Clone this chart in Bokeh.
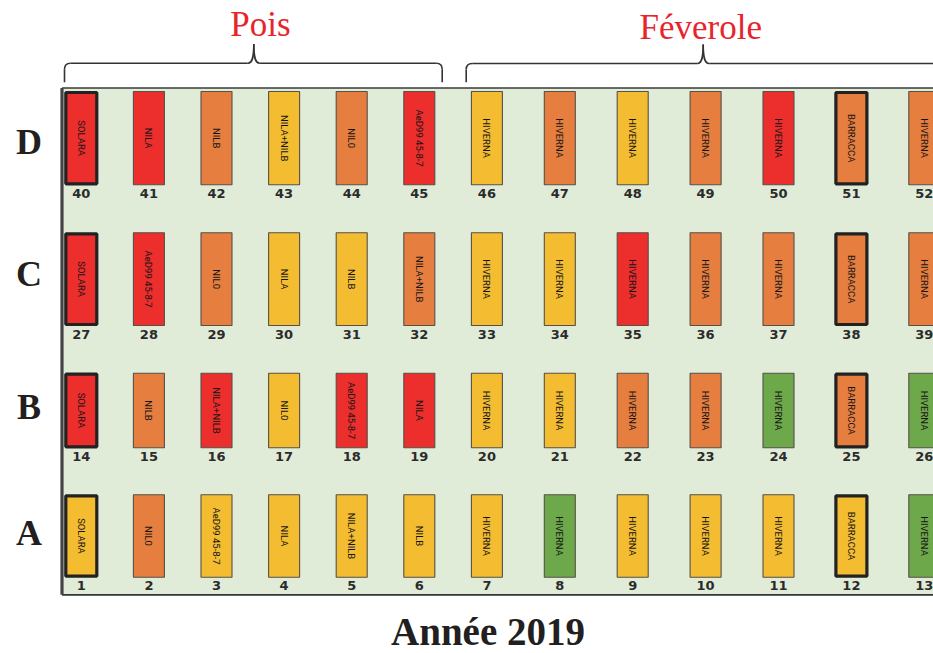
import math
from bokeh.plotting import figure
from bokeh.models import Range1d, ColumnDataSource
from bokeh.core.properties import value
from bokeh.embed import file_html
from bokeh.resources import INLINE

# ------------------------------------------------------------------ data
rows = ["D", "C", "B", "A"]

numbers_D = [40, 41, 42, 43, 44, 45, 46, 47, 48, 49, 50, 51, 52]
numbers_C = [27, 28, 29, 30, 31, 32, 33, 34, 35, 36, 37, 38, 39]
numbers_B = [14, 15, 16, 17, 18, 19, 20, 21, 22, 23, 24, 25, 26]
numbers_A = [1, 2, 3, 4, 5, 6, 7, 8, 9, 10, 11, 12, 13]

varieties_D = ["SOLARA", "NILA", "NILB", "NILA+NILB", "NIL0", "AeD99 45-8-7",
               "HIVERNA", "HIVERNA", "HIVERNA", "HIVERNA", "HIVERNA", "BARRACCA", "HIVERNA"]
varieties_C = ["SOLARA", "AeD99 45-8-7", "NIL0", "NILA", "NILB", "NILA+NILB",
               "HIVERNA", "HIVERNA", "HIVERNA", "HIVERNA", "HIVERNA", "BARRACCA", "HIVERNA"]
varieties_B = ["SOLARA", "NILB", "NILA+NILB", "NIL0", "AeD99 45-8-7", "NILA",
               "HIVERNA", "HIVERNA", "HIVERNA", "HIVERNA", "HIVERNA", "BARRACCA", "HIVERNA"]
varieties_A = ["SOLARA", "NIL0", "AeD99 45-8-7", "NILA", "NILA+NILB", "NILB",
               "HIVERNA", "HIVERNA", "HIVERNA", "HIVERNA", "HIVERNA", "BARRACCA", "HIVERNA"]

classes_D = ["rouge", "rouge", "orange", "jaune", "orange", "rouge",
             "jaune", "orange", "jaune", "orange", "rouge", "orange", "orange"]
classes_C = ["rouge", "rouge", "orange", "jaune", "jaune", "orange",
             "jaune", "jaune", "rouge", "orange", "orange", "orange", "orange"]
classes_B = ["rouge", "orange", "rouge", "jaune", "rouge", "rouge",
             "jaune", "jaune", "orange", "orange", "vert", "orange", "vert"]
classes_A = ["jaune", "orange", "jaune", "jaune", "jaune", "jaune",
             "jaune", "vert", "jaune", "jaune", "jaune", "jaune", "vert"]

groups = ["Pois", "Féverole"]
group_sizes = [6, 7]
controls = ["SOLARA", "BARRACCA"]
title_text = "Année 2019"

palette = {"rouge": "#ec2e2c", "orange": "#e57e3f", "jaune": "#f4bd31", "vert": "#6da84b"}

# ------------------------------------------------------------------ layout
W, H = 933, 653

# column centres (page px), per group: first centre and step
group_layout = {"Pois": (80.8, 67.6), "Féverole": (486.4, 72.9)}
col_centres = []
for g, n in zip(groups, group_sizes):
    x0, step = group_layout[g]
    col_centres += [x0 + step * i for i in range(n)]

# per row: rect top, rect bottom, row-label y, number y (page px)
row_geom = {"D": (91.0, 184.3, 141.7, 193.3),
            "C": (232.3, 325.0, 273.0, 334.3),
            "B": (372.7, 447.3, 406.0, 455.7),
            "A": (494.3, 576.7, 532.5, 585.0)}

row_numbers = {"D": numbers_D, "C": numbers_C, "B": numbers_B, "A": numbers_A}
row_varieties = {"D": varieties_D, "C": varieties_C, "B": varieties_B, "A": varieties_A}
row_classes = {"D": classes_D, "C": classes_C, "B": classes_B, "A": classes_A}

HALF_W = 15.5

cell = dict(left=[], right=[], top=[], bottom=[], color=[], lw=[], lc=[],
            cx=[], cy=[], label=[], ny=[], num=[])
for r in rows:
    top, bot, ly, ny = row_geom[r]
    for cx, num, var, cl in zip(col_centres, row_numbers[r], row_varieties[r], row_classes[r]):
        thick = var in controls
        cell["left"].append(cx - HALF_W)
        cell["right"].append(cx + HALF_W)
        cell["top"].append(top + (1 if thick else 0))
        cell["bottom"].append(bot - (1 if thick else 0))
        cell["color"].append(palette[cl])
        cell["lw"].append(3.2 if thick else 1.1)
        cell["lc"].append("#222222" if thick else "#555048")
        cell["cx"].append(cx)
        cell["cy"].append((top + bot) / 2)
        cell["label"].append(var)
        cell["ny"].append(ny)
        cell["num"].append(str(num))
src = ColumnDataSource(cell)

p = figure(width=W, height=H, x_range=Range1d(0, W), y_range=Range1d(H, 0),
           output_backend="svg", toolbar_location=None, min_border=0,
           x_axis_location=None, y_axis_location=None)
p.grid.visible = False
p.outline_line_color = None
p.background_fill_color = "white"
p.border_fill_color = "white"

# field background
BG_L, BG_T, BG_B = 61.5, 87.5, 594.3
p.quad(left=[BG_L], right=[1000], top=[BG_T], bottom=[BG_B],
       fill_color="#e1ecd8", line_color=None)
p.segment(x0=[BG_L], y0=[BG_T], x1=[1000], y1=[BG_T], line_color="#3a3a3a", line_width=1.6)
p.segment(x0=[BG_L], y0=[BG_B], x1=[1000], y1=[BG_B], line_color="#333333", line_width=1.8)
p.segment(x0=[BG_L], y0=[BG_T], x1=[BG_L], y1=[BG_B], line_color="#444444", line_width=3.2)

# plots
p.quad(left="left", right="right", top="top", bottom="bottom", source=src,
       fill_color="color", line_color="lc", line_width="lw")
p.text(x="cx", y="cy", text="label", source=src, angle=-math.pi / 2,
       text_align="center", text_baseline="middle",
       text_font=value("Roboto"), text_font_size="9.5px",
       text_color="#151515")
p.text(x="cx", y="ny", text="num", source=src,
       text_align="center", text_baseline="middle",
       text_font=value("DejaVu Sans"), text_font_style="bold",
       text_font_size="13px", text_color="#2b2b2b")

# row labels
p.text(x=[28.5] * len(rows), y=[row_geom[r][2] for r in rows], text=rows,
       text_align="center", text_baseline="middle",
       text_font=value("Liberation Serif"), text_font_style="bold",
       text_font_size="36px", text_color="#231f20")

# group braces and titles
brace_layout = {"Pois": (64.0, 253.3, 441.7, 81.7, 62.7, 43.5),
                "Féverole": (465.7, 702.7, 939.7, 81.7, 63.0, 44.0)}
title_layout = {"Pois": (260.0, 23.5), "Féverole": (700.3, 26.7)}
R = 6.0
for g in groups:
    x0, xc, x1, yb, yh, yp = brace_layout[g]
    p.segment(x0=[x0, x1], y0=[yb, yb], x1=[x0, x1], y1=[yh + R, yh + R],
              line_color="#333333", line_width=1.6)
    p.quadratic(x0=[x0, x1], y0=[yh + R, yh + R], x1=[x0 + R, x1 - R],
                y1=[yh, yh], cx=[x0, x1], cy=[yh, yh],
                line_color="#333333", line_width=1.6)
    p.segment(x0=[x0 + R, xc + R], y0=[yh, yh], x1=[xc - R, x1 - R], y1=[yh, yh],
              line_color="#333333", line_width=1.6)
    p.bezier(x0=[xc - R, xc + R], y0=[yh, yh], x1=[xc, xc], y1=[yp, yp],
             cx0=[xc - 1, xc + 1], cy0=[yh, yh], cx1=[xc, xc], cy1=[yh - 7, yh - 7],
             line_color="#333333", line_width=1.6)
    tx, ty = title_layout[g]
    p.text(x=[tx], y=[ty], text=[g], text_align="center", text_baseline="middle",
           text_font=value("Liberation Serif"), text_font_size="35px", text_color="#e8242b")

# title
p.text(x=[487.5], y=[631.0], text=[title_text], text_align="center", text_baseline="middle",
       text_font=value("Liberation Serif"), text_font_style="bold",
       text_font_size="39px", text_color="#231f20")

open("out.html", "w").write(file_html(p, INLINE))
